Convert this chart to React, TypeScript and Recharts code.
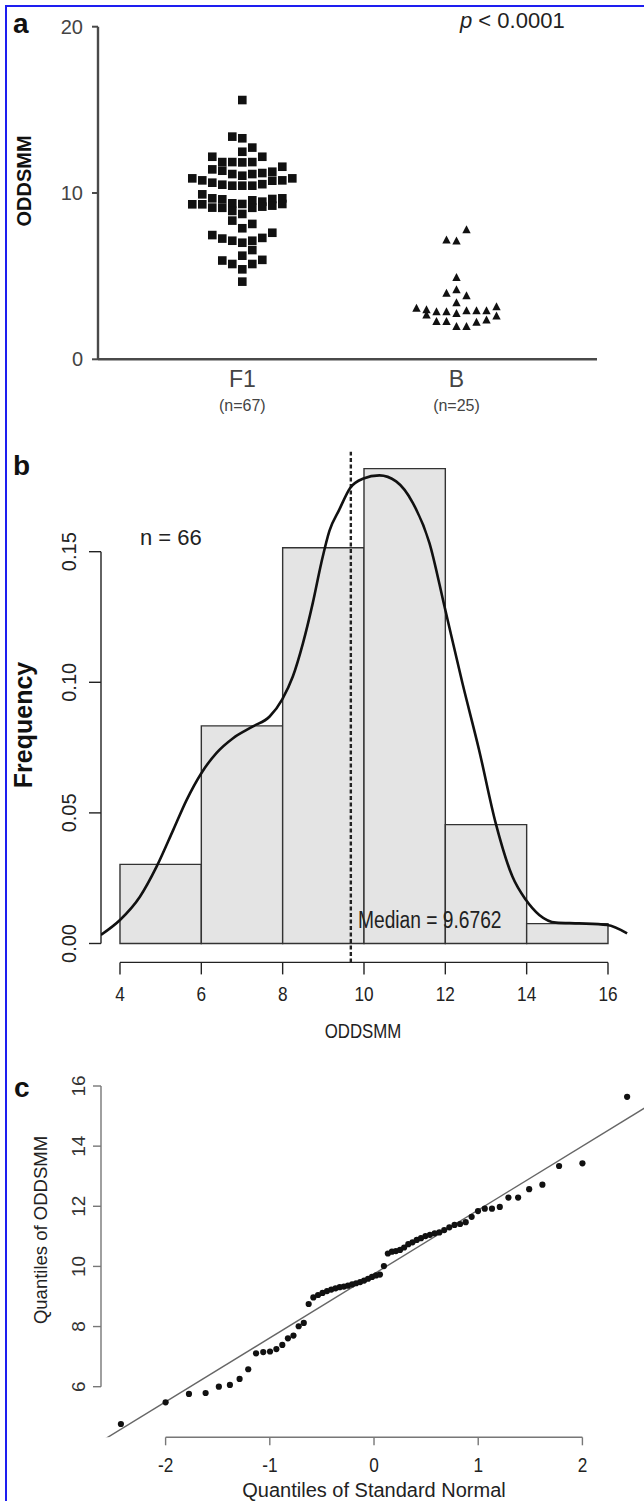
import React from 'react';
import {
  ScatterChart, Scatter, XAxis, YAxis, ComposedChart, Line,
  ReferenceArea, ReferenceLine,
} from 'recharts';

// ---------- Panel a : dot plot ----------
const groups = ['F1', 'B'];
const groupCounts = [67, 25];
const yTicksA = [0, 10, 20];
const f1Values = [
  15.59, 13.39, 13.29, 12.73, 12.48, 12.18, 12.18, 11.86, 11.86, 11.84, 11.86, 11.58,
  11.42, 11.34, 11.28, 11.14, 11.14, 11.2, 11.04, 10.88, 10.88, 10.76, 10.74, 10.76,
  10.62, 10.5, 10.53, 10.44, 10.44, 10.44,
  9.92, 9.68, 9.32, 9.32, 9.12, 9.62, 9.11, 9.38, 8.92, 9.34, 9.56, 9.11, 9.48, 9.18,
  9.64, 9.24, 9.68, 9.34,
  8.74, 8.34, 8.14, 7.88, 7.61, 7.47, 7.26, 7.3, 7.13, 7.13, 7.01, 6.57, 6.23, 5.94,
  5.98, 5.73, 5.73, 5.41, 4.67,
];
const f1Slots = [
  0, -1, 0, 1, 0, -3, 2, -2, -1, 0, 1, 4,
  -3, -2, 3, -1, 1, 2, 0, -5, 5, -4, 3, 4,
  -3, -2, 2, -1, 0, 1,
  -4, -3, -5, -4, -3, -2, -2, -1, -1, 0, 1, 1, 2, 2,
  3, 3, 4, 4,
  0, -1, 1, 0, 3, -3, -2, 2, -1, 1, 0, 1, 0, -2,
  2, -1, 1, 0, 0,
];
const bValues = [
  7.78, 7.17, 7.11, 4.91, 3.97, 4.17, 3.81, 3.4, 3.07, 2.97, 2.86, 2.86, 2.75,
  2.92, 2.92, 2.92, 3.15, 2.66, 2.26, 2.26, 1.96, 1.96, 2.22, 2.35, 2.6,
];
const bSlots = [
  1, -1, 0, 0, -1, 0, 1, 0, -4, -3, -2, -1, 0,
  1, 2, 3, 4, -3, -2, -1, 0, 1, 2, 3, 4,
];

// ---------- Panel b : histogram + density ----------
const binStarts = [4, 6, 8, 10, 12, 14];
const binEnds = [6, 8, 10, 12, 14, 16];
const binDensity = [0.0303, 0.0833, 0.1515, 0.1818, 0.0455, 0.0076];
const densityX = [
  3.53, 4.0, 4.49, 4.9, 5.31, 5.64, 6.0, 6.37, 6.78, 7.27, 7.68, 7.99, 8.25, 8.5,
  8.74, 8.95, 9.15, 9.39, 9.66, 9.97, 10.38, 10.79, 11.2, 11.61, 11.98, 12.42,
  12.83, 13.24, 13.65, 13.98, 14.31, 14.72, 15.29, 15.98, 16.47,
];
const densityY = [
  0.0033, 0.009, 0.0179, 0.0294, 0.0435, 0.055, 0.0652, 0.0729, 0.0786, 0.0831,
  0.0869, 0.0935, 0.1022, 0.115, 0.1303, 0.1457, 0.158, 0.166, 0.1744, 0.1779,
  0.1792, 0.1769, 0.1687, 0.1533, 0.129, 0.0997, 0.0741, 0.046, 0.0256, 0.0167,
  0.0109, 0.008, 0.0077, 0.0071, 0.0039,
];
const histXTicks = [4, 6, 8, 10, 12, 14, 16];
const histYTicks = [0, 0.05, 0.1, 0.15];
const sampleSize = 66;
const medianValue = 9.6762;

// ---------- Panel c : normal Q-Q plot ----------
const qqTheoretical = [
  -2.429, -2.0, -1.776, -1.616, -1.489, -1.383, -1.29, -1.207, -1.132, -1.063, -0.998,
  -0.937, -0.88, -0.826, -0.773, -0.723, -0.674, -0.627, -0.582, -0.537, -0.494, -0.451,
  -0.41, -0.369, -0.329, -0.289, -0.25, -0.21, -0.172, -0.133, -0.095, -0.057, -0.019,
  0.019, 0.057, 0.095, 0.133, 0.172, 0.21, 0.25, 0.289, 0.329, 0.369, 0.41, 0.451,
  0.494, 0.537, 0.582, 0.627, 0.674, 0.723, 0.773, 0.826, 0.88, 0.937, 0.998, 1.063,
  1.132, 1.207, 1.29, 1.383, 1.489, 1.616, 1.776, 2.0, 2.429,
];
const qqSample = [
  4.76, 5.48, 5.76, 5.79, 6.0, 6.06, 6.26, 6.58, 7.11, 7.15, 7.17, 7.25, 7.39, 7.61,
  7.7, 8.01, 8.12, 8.75, 8.97, 9.05, 9.12, 9.18, 9.23, 9.27, 9.31, 9.33, 9.36, 9.4,
  9.44, 9.48, 9.53, 9.59, 9.65, 9.7, 9.73, 10.01, 10.43, 10.49, 10.51, 10.55, 10.63,
  10.74, 10.8, 10.88, 10.94, 11.01, 11.05, 11.1, 11.13, 11.21, 11.3, 11.38, 11.41,
  11.47, 11.65, 11.84, 11.92, 11.92, 11.98, 12.29, 12.29, 12.57, 12.72, 13.34, 13.43,
  15.64,
];
const qqLineX = [-2.62, 2.62];
const qqLineY = [4.18, 15.32];
const qqXTicks = [-2, -1, 0, 1, 2];
const qqYTicks = [6, 8, 10, 12, 14, 16];

// ---------- derived tables ----------
const SLOT = 0.0467;
const f1Points = f1Values.map((v, i) => ({ x: 1 + f1Slots[i] * SLOT, y: v }));
const bPoints = bValues.map((v, i) => ({ x: 2 + bSlots[i] * SLOT, y: v }));
const densityPoints = densityX.map((x, i) => ({ x, d: densityY[i] }));
const qqPoints = qqTheoretical.map((x, i) => ({ x, y: qqSample[i] }));

const SANS = "'Liberation Sans', Arial, Helvetica, sans-serif";

// condensed text (the R panels use a narrow face)
const Cond = ({ x, y, sx, size, anchor = 'start', children, fill = '#222' }: any) => (
  <text
    transform={`translate(${x} ${y}) scale(${sx} 1)`}
    x={0}
    y={0}
    textAnchor={anchor}
    fontSize={size}
    fill={fill}
    fontFamily={SANS}
  >
    {children}
  </text>
);

const Square = (p: any) => (
  <rect x={p.cx - 4.3} y={p.cy - 4.3} width={8.6} height={8.6} fill="#111" />
);
const Tri = (p: any) => (
  <polygon
    points={`${p.cx},${p.cy - 4.6} ${p.cx - 4.2},${p.cy + 3.4} ${p.cx + 4.2},${p.cy + 3.4}`}
    fill="#111"
  />
);
const Dot = (p: any) => <circle cx={p.cx} cy={p.cy} r={3.1} fill="#111" />;

const GroupTick = (p: any) => {
  const idx = p.payload.value === 1 ? 0 : 1;
  return (
    <g>
      <text x={p.x} y={p.y + 27.4} textAnchor="middle" fontSize={23} fill="#444" fontFamily={SANS}>
        {groups[idx]}
      </text>
      <text x={p.x} y={p.y + 52} textAnchor="middle" fontSize={16} fill="#444" fontFamily={SANS}>
        {`(n=${groupCounts[idx]})`}
      </text>
    </g>
  );
};

const CondXTick = (p: any) => (
  <Cond x={p.x} y={p.y + 15} sx={0.82} size={21} anchor="middle">
    {String(p.payload.value)}
  </Cond>
);

const makeRotTick = (offset: number, size: number, fmt: (v: number) => string, fill: string) =>
  (p: any) => {
    const cx = p.x - offset;
    return (
      <text
        x={cx}
        y={p.y}
        transform={`rotate(-90 ${cx} ${p.y})`}
        textAnchor="middle"
        dominantBaseline="central"
        fontSize={size}
        fill={fill}
        fontFamily={SANS}
      >
        {fmt(p.payload.value)}
      </text>
    );
  };

const HistYTick = makeRotTick(19.5, 20, (v) => v.toFixed(2), '#222');
const QQYTick = makeRotTick(14, 19, (v) => String(v), '#333');

function PanelA() {
  return (
    <div style={{ position: 'absolute', left: 0, top: 0 }}>
      <ScatterChart width={644} height={430} margin={{ top: 26.7, right: 47, bottom: 10.7, left: 38 }}>
        <XAxis
          type="number"
          dataKey="x"
          domain={[0.3263, 2.656]}
          allowDataOverflow
          ticks={[1, 2]}
          interval={0}
          height={60}
          tickLine={false}
          tickSize={0}
          tickMargin={0}
          axisLine={{ stroke: '#4a4a4a', strokeWidth: 2.4 }}
          tick={GroupTick}
        />
        <YAxis
          type="number"
          dataKey="y"
          domain={[0, 20]}
          allowDataOverflow
          ticks={yTicksA}
          interval={0}
          width={60}
          tickSize={6}
          tickMargin={9}
          axisLine={{ stroke: '#4a4a4a', strokeWidth: 2.4 }}
          tickLine={{ stroke: '#4a4a4a', strokeWidth: 2 }}
          tick={{ fontSize: 20, fill: '#444', fontFamily: SANS }}
        />
        <Scatter data={f1Points} shape={Square} isAnimationActive={false} />
        <Scatter data={bPoints} shape={Tri} isAnimationActive={false} />
      </ScatterChart>
    </div>
  );
}

function PanelB() {
  return (
    <div style={{ position: 'absolute', left: 0, top: 430 }}>
      <ComposedChart
        width={644}
        height={620}
        data={densityPoints}
        margin={{ top: 21.7, right: 16, bottom: 27.6, left: 41 }}
      >
        <XAxis
          type="number"
          dataKey="x"
          domain={[3.533, 16.492]}
          allowDataOverflow
          ticks={histXTicks}
          interval={0}
          height={60}
          axisLine={false}
          tickSize={12}
          tickMargin={12}
          tickLine={{ stroke: '#222', strokeWidth: 1.4 }}
          tick={CondXTick}
        />
        <YAxis
          type="number"
          domain={[-0.00724, 0.18828]}
          allowDataOverflow
          ticks={histYTicks}
          interval={0}
          width={60}
          axisLine={false}
          tickSize={12}
          tickMargin={0}
          tickLine={{ stroke: '#222', strokeWidth: 1.4 }}
          tick={HistYTick}
        />
        {binStarts.map((s, i) => (
          <ReferenceArea
            key={s}
            x1={s}
            x2={binEnds[i]}
            y1={0}
            y2={binDensity[i]}
            fill="#e4e4e4"
            fillOpacity={1}
            stroke="#333"
            strokeWidth={1.4}
            ifOverflow="visible"
          />
        ))}
        <ReferenceLine
          segment={[{ x: 3.533, y: 0 }, { x: 3.533, y: 0.15 }]}
          stroke="#222"
          strokeWidth={1.4}
          ifOverflow="visible"
        />
        <ReferenceLine
          segment={[{ x: 4, y: -0.00724 }, { x: 16, y: -0.00724 }]}
          stroke="#222"
          strokeWidth={1.4}
          ifOverflow="visible"
        />
        <ReferenceLine x={medianValue} stroke="#222" strokeWidth={2.4} strokeDasharray="4 2.5" />
        <Line
          dataKey="d"
          type="monotone"
          dot={false}
          stroke="#111"
          strokeWidth={2.6}
          isAnimationActive={false}
        />
      </ComposedChart>
    </div>
  );
}

function PanelC() {
  return (
    <div style={{ position: 'absolute', left: 0, top: 1040 }}>
      <ScatterChart width={644} height={461} margin={{ top: 35, right: 0, bottom: 13.7, left: 41 }}>
        <XAxis
          type="number"
          dataKey="x"
          domain={[-2.62, 2.591]}
          allowDataOverflow
          ticks={qqXTicks}
          interval={0}
          height={50}
          axisLine={false}
          tickSize={8}
          tickMargin={12}
          tickLine={{ stroke: '#777', strokeWidth: 1.4 }}
          tick={CondXTick}
        />
        <YAxis
          type="number"
          dataKey="y"
          domain={[4.317, 16.366]}
          allowDataOverflow
          ticks={qqYTicks}
          interval={0}
          width={60}
          axisLine={false}
          tickSize={8}
          tickMargin={0}
          tickLine={{ stroke: '#777', strokeWidth: 1.4 }}
          tick={QQYTick}
        />
        <ReferenceLine
          segment={[{ x: -2.62, y: 6 }, { x: -2.62, y: 16 }]}
          stroke="#777"
          strokeWidth={1.4}
          ifOverflow="visible"
        />
        <ReferenceLine
          segment={[{ x: -2, y: 4.317 }, { x: 2, y: 4.317 }]}
          stroke="#777"
          strokeWidth={1.4}
          ifOverflow="visible"
        />
        <ReferenceLine
          segment={[{ x: qqLineX[0], y: qqLineY[0] }, { x: qqLineX[1], y: qqLineY[1] }]}
          stroke="#666"
          strokeWidth={1.4}
          ifOverflow="hidden"
        />
        <Scatter data={qqPoints} shape={Dot} isAnimationActive={false} />
      </ScatterChart>
    </div>
  );
}

function Overlay() {
  return (
    <svg
      width={644}
      height={1501}
      style={{ position: 'absolute', left: 0, top: 0, pointerEvents: 'none' }}
    >
      <g fontFamily={SANS}>
        <text x={13} y={33} fontSize={28} fontWeight="bold" fill="#111">a</text>
        <text x={460} y={28} fontSize={22} fill="#222">
          <tspan fontStyle="italic">p</tspan> &lt; 0.0001
        </text>
        <text
          x={24}
          y={181}
          transform="rotate(-90 24 181)"
          textAnchor="middle"
          dominantBaseline="central"
          fontSize={20}
          fontWeight="bold"
          fill="#111"
        >
          ODDSMM
        </text>

        <text x={13} y={475} fontSize={28} fontWeight="bold" fill="#111">b</text>
        <text x={140} y={545} fontSize={22} fill="#222">{`n = ${sampleSize}`}</text>
        <text
          x={22.5}
          y={725}
          transform="rotate(-90 22.5 725)"
          textAnchor="middle"
          dominantBaseline="central"
          fontSize={25}
          fontWeight="bold"
          fill="#111"
        >
          Frequency
        </text>
        <Cond x={358} y={928} sx={0.835} size={23}>
          {`Median = ${medianValue}`}
        </Cond>
        <Cond x={363} y={1038} sx={0.8} size={21} anchor="middle">
          ODDSMM
        </Cond>

        <text x={14} y={1097} fontSize={28} fontWeight="bold" fill="#111">c</text>
        <text
          x={40}
          y={1230}
          transform="rotate(-90 40 1230)"
          textAnchor="middle"
          dominantBaseline="central"
          fontSize={18.5}
          fill="#222"
        >
          Quantiles of ODDSMM
        </text>
        <text x={374} y={1497} fontSize={20} fill="#222" textAnchor="middle">
          Quantiles of Standard Normal
        </text>
      </g>
    </svg>
  );
}

export default function App() {
  return (
    <div
      style={{
        position: 'absolute',
        left: 0,
        top: 0,
        width: 644,
        height: 1501,
        overflow: 'hidden',
        background: '#fff',
      }}
    >
      <div
        style={{
          position: 'absolute',
          left: 5,
          top: 5,
          width: 660,
          height: 1520,
          borderTop: '2px solid #1e1ef0',
          borderLeft: '2px solid #1e1ef0',
        }}
      />
      <PanelA />
      <PanelB />
      <PanelC />
      <Overlay />
    </div>
  );
}
